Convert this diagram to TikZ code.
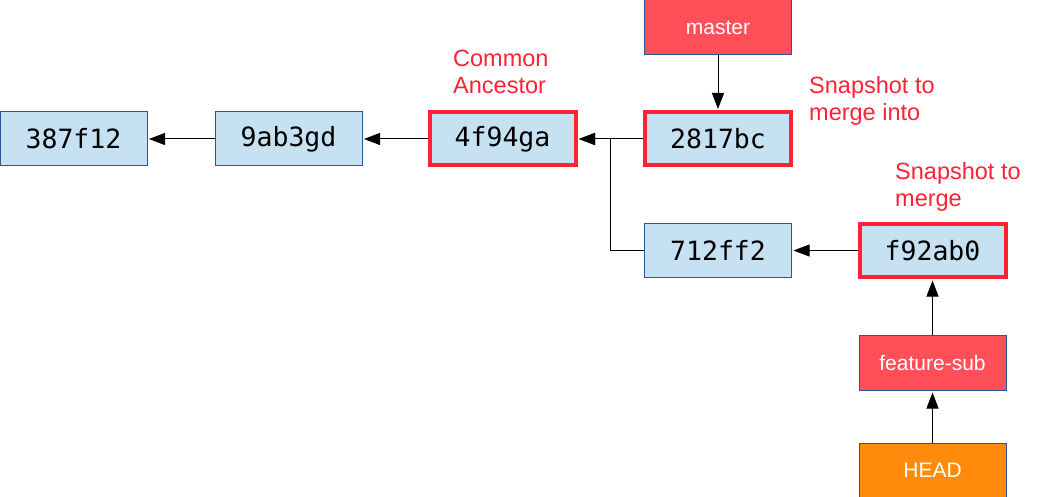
\documentclass[tikz,border=0pt]{standalone}
\usepackage{fontspec}
\setmainfont{Liberation Sans}
\newfontfamily\hashfont{DejaVu Sans Mono}
\usetikzlibrary{arrows.meta}
\definecolor{commitfill}{HTML}{C5E1F2}
\definecolor{commitline}{HTML}{2B579A}
\definecolor{hilite}{HTML}{FF2236}
\definecolor{branchfill}{HTML}{FF505A}
\definecolor{headfill}{HTML}{FF8A0B}
\tikzset{
  commit/.style={draw=commitline, line width=1pt, fill=commitfill, minimum width=147pt, minimum height=54pt, inner sep=0pt, font=\hashfont\fontsize{26.5}{30}\selectfont},
  keycommit/.style={draw=hilite, line width=4pt, fill=commitfill, minimum width=146pt, minimum height=53pt, inner sep=0pt, font=\hashfont\fontsize{26.5}{30}\selectfont},
  branch/.style={draw=commitline, line width=1pt, fill=branchfill, text=white, minimum width=147pt, minimum height=55pt, inner sep=0pt, font=\fontsize{21}{24}\selectfont},
  headbox/.style={branch, fill=headfill},
  note/.style={text=hilite, align=left, anchor=north west, inner sep=0pt, font=\fontsize{23.5}{27}\selectfont},
  link/.style={draw=black, line width=1pt, -{Triangle[length=16pt,width=12pt]}, shorten >=1.5pt}
}
\begin{document}
\begin{tikzpicture}[x=1pt,y=-1pt]
\useasboundingbox (0,0) rectangle (1064,497);
\fill[white] (0,0) rectangle (1064,497);
\node[commit] (c1) at (73.5,139) {387f12};
\node[commit] (c2) at (288.5,139) {9ab3gd};
\node[keycommit] (c3) at (502.5,139) {4f94ga};
\node[keycommit] (c4) at (718,139) {2817bc};
\node[commit] (c5) at (718,250.5) {712ff2};
\node[keycommit] (c6) at (932.5,250.5) {f92ab0};
\node[branch] (master) at (718,27.5) {master};
\node[branch] (feat) at (932.5,363) {feature-sub};
\node[headbox] (head) at (932.5,470.5) {HEAD};
\coordinate (bend) at (610,250.5);
\node[note] (n1) at (453,49.5) {Common\\Ancestor};
\node[note] (n2) at (809,76.5) {Snapshot to\\merge into};
\node[note] (n3) at (895,162.5) {Snapshot to\\merge};
\draw[link] (c2) -- (c1);
\draw[link] (c3) -- (c2);
\draw[link] (c4) -- (c3);
\draw[link] (c5.west) -- (bend) |- (c3.east);
\draw[link] (c6) -- (c5);
\draw[link] (master) -- (c4);
\draw[link] (feat) -- (c6);
\draw[link] (head) -- (feat);
\end{tikzpicture}
\end{document}
